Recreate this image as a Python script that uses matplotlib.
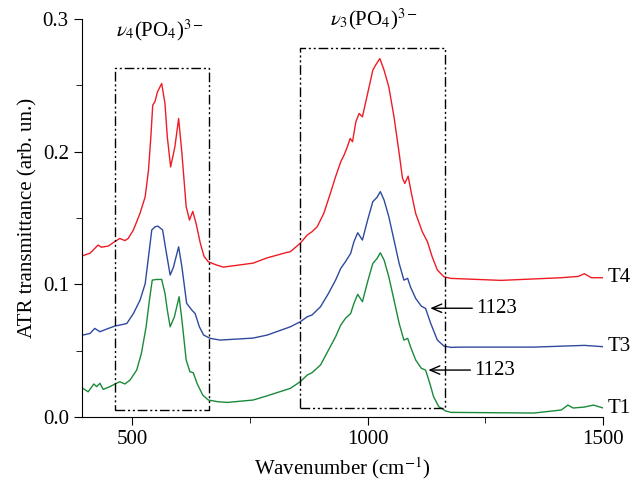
import numpy as np
import matplotlib.pyplot as plt
from matplotlib.ticker import MultipleLocator

plt.rcParams['font.family'] = ['Liberation Serif', 'DejaVu Serif']
plt.rcParams['mathtext.fontset'] = 'stix'

# T4 (red)
wn_t4 = [389, 411, 428, 435, 450, 460, 474, 485, 492, 503, 517, 528, 535, 540, 544, 549, 554,
         563, 570, 575, 582, 591, 599, 606, 615, 622, 629, 636, 645, 653, 662, 680, 694,
         757, 787, 828, 836, 857, 872, 882, 893, 907, 921, 932, 943, 950, 957, 963, 968,
         975, 982, 989, 1000, 1011, 1017, 1026, 1035, 1045, 1056, 1067, 1074, 1079, 1086,
         1093, 1102, 1116, 1127, 1137, 1148, 1162, 1177, 1283, 1411, 1447, 1460, 1475, 1500]
t4 = [0.1208, 0.1235, 0.1296, 0.128, 0.1289, 0.1314, 0.1346, 0.133, 0.1346, 0.141, 0.1535,
      0.166, 0.186, 0.211, 0.235, 0.238, 0.245, 0.2514, 0.2363, 0.211, 0.1885, 0.2036, 0.225,
      0.1985, 0.1585, 0.1485, 0.155, 0.146, 0.131, 0.121, 0.117, 0.1145, 0.113, 0.116, 0.12,
      0.124, 0.1246, 0.131, 0.1372, 0.1397, 0.1434, 0.1535, 0.1686, 0.1811, 0.1924, 0.1974,
      0.2037, 0.21, 0.2075, 0.2225, 0.2288, 0.2263, 0.2438, 0.2614, 0.2653, 0.2702, 0.2614,
      0.2488, 0.2263, 0.1987, 0.18, 0.1761, 0.1816, 0.1685, 0.1534, 0.1397, 0.1321, 0.1208,
      0.1108, 0.1057, 0.1045, 0.103, 0.105, 0.106, 0.108, 0.105, 0.105]

# T3 (blue)
wn_t3 = [396, 411, 421, 432, 450, 464, 474, 489, 503, 517, 528, 535, 542, 549, 555, 565, 572,
         581, 588, 599, 606, 616, 627, 634, 643, 652, 666, 687, 757, 787, 836, 857, 872,
         882, 900, 917, 932, 943, 953, 964, 971, 979, 989, 1000, 1011, 1020, 1027, 1035,
         1045, 1056, 1067, 1077, 1085, 1091, 1102, 1114, 1123, 1134, 1148, 1162, 1177,
         1198, 1353, 1460, 1500]
t3 = [0.0618, 0.063, 0.0668, 0.0643, 0.0668, 0.0686, 0.0693, 0.0705, 0.078, 0.088, 0.1005,
      0.1206, 0.141, 0.1434, 0.1439, 0.141, 0.1258, 0.107, 0.113, 0.1283, 0.113, 0.0857,
      0.0806, 0.078, 0.068, 0.0618, 0.0593, 0.058, 0.0595, 0.0618, 0.068, 0.0718, 0.0756,
      0.0769, 0.0831, 0.0932, 0.1032, 0.112, 0.1171, 0.1233, 0.1322, 0.1389, 0.1334,
      0.1485, 0.1623, 0.1656, 0.1699, 0.1635, 0.151, 0.1334, 0.1157, 0.1032, 0.1045, 0.098,
      0.0894, 0.0836, 0.0818, 0.0705, 0.058, 0.0535, 0.0525, 0.0527, 0.0527, 0.054, 0.053]

# T1 (green)
wn_t1 = [396, 407, 419, 425, 432, 439, 453, 464, 474, 485, 496, 510, 520, 530, 537, 543, 552,
         563, 570, 575, 581, 590, 600, 606, 615, 623, 630, 638, 650, 662, 683, 702, 757,
         787, 836, 857, 872, 882, 900, 917, 932, 943, 953, 964, 971, 979, 989, 1000, 1011,
         1020, 1027, 1035, 1045, 1056, 1067, 1077, 1085, 1091, 1102, 1114, 1123, 1132,
         1140, 1151, 1166, 1177, 1353, 1411, 1425, 1436, 1460, 1479, 1500]
t1 = [0.0216, 0.019, 0.0249, 0.0229, 0.0254, 0.0208, 0.0229, 0.0249, 0.0266, 0.0249, 0.0279,
      0.0354, 0.048, 0.068, 0.0882, 0.1032, 0.1037, 0.1037, 0.0932, 0.0806, 0.068, 0.0755,
      0.0907, 0.073, 0.043, 0.0341, 0.0334, 0.0254, 0.0166, 0.0128, 0.0115, 0.011, 0.0128,
      0.016, 0.0216, 0.0266, 0.0317, 0.0334, 0.0392, 0.0505, 0.0605, 0.0693, 0.0744, 0.078,
      0.0857, 0.0925, 0.0869, 0.102, 0.1157, 0.1195, 0.1238, 0.1183, 0.1057, 0.0882, 0.0705,
      0.058, 0.0593, 0.053, 0.043, 0.0367, 0.0354, 0.0254, 0.0153, 0.0078, 0.0045, 0.0035,
      0.003, 0.0053, 0.009, 0.0068, 0.0075, 0.009, 0.0068]

series_names = ['T4', 'T3', 'T1']
series_colors = ['#ee1c25', '#2e4a9e', '#1a8a3a']

fig = plt.figure(figsize=(6.31, 4.83), dpi=100)
ax = fig.add_axes([0.130, 0.1366, 0.826, 0.824])

for wn, vals, name, col in zip([wn_t4, wn_t3, wn_t1], [t4, t3, t1], series_names, series_colors):
    ax.plot(wn, vals, color=col, lw=1.0)
    ax.text(1510, vals[-1], name, fontsize=15, va='center', ha='left', clip_on=False)

# dash-dot-dot boxes
dd = (0, (7, 2, 1.5, 2, 1.5, 2))
ax.plot([464, 664, 664, 464, 464], [0.0053, 0.0053, 0.263, 0.263, 0.0053],
        color='black', lw=1.0, linestyle=dd)
ax.plot([857, 1164, 1164, 857, 857], [0.0068, 0.0068, 0.278, 0.278, 0.0068],
        color='black', lw=1.0, linestyle=dd)

ax.text(560, 0.282, r'$\nu_4$(PO$_4$)$^{3-}$', fontsize=15, ha='center', va='bottom')
ax.text(1013, 0.290, r'$\nu_3$(PO$_4$)$^{3-}$', fontsize=15, ha='center', va='bottom')

arrow_style = dict(arrowstyle='->,head_length=0.7,head_width=0.3', color='black', lw=1.0)
ax.annotate('', xy=(1127, 0.082), xytext=(1228, 0.082), arrowprops=arrow_style)
ax.text(1230, 0.082, '1123', fontsize=15, va='center', ha='left')
ax.annotate('', xy=(1123, 0.0354), xytext=(1224, 0.0354), arrowprops=arrow_style)
ax.text(1226, 0.0354, '1123', fontsize=15, va='center', ha='left')

ax.set_xlim(394, 1500)
ax.set_ylim(0, 0.3)
ax.xaxis.set_major_locator(MultipleLocator(500))
ax.xaxis.set_minor_locator(MultipleLocator(250))
ax.yaxis.set_major_locator(MultipleLocator(0.1))
ax.yaxis.set_minor_locator(MultipleLocator(0.05))
ax.yaxis.set_major_formatter(plt.FuncFormatter(lambda v, p: f'{v:.1f}'))
ax.tick_params(which='major', direction='out', length=6, labelsize=15)
ax.tick_params(which='minor', direction='out', length=4)
ax.spines['top'].set_visible(False)
ax.spines['right'].set_visible(False)
ax.set_xlabel('Wavenumber (cm$^{-1}$)', fontsize=15)
ax.set_ylabel('ATR transmittance (arb. un.)', fontsize=15)

plt.savefig('out.png', dpi=100)
